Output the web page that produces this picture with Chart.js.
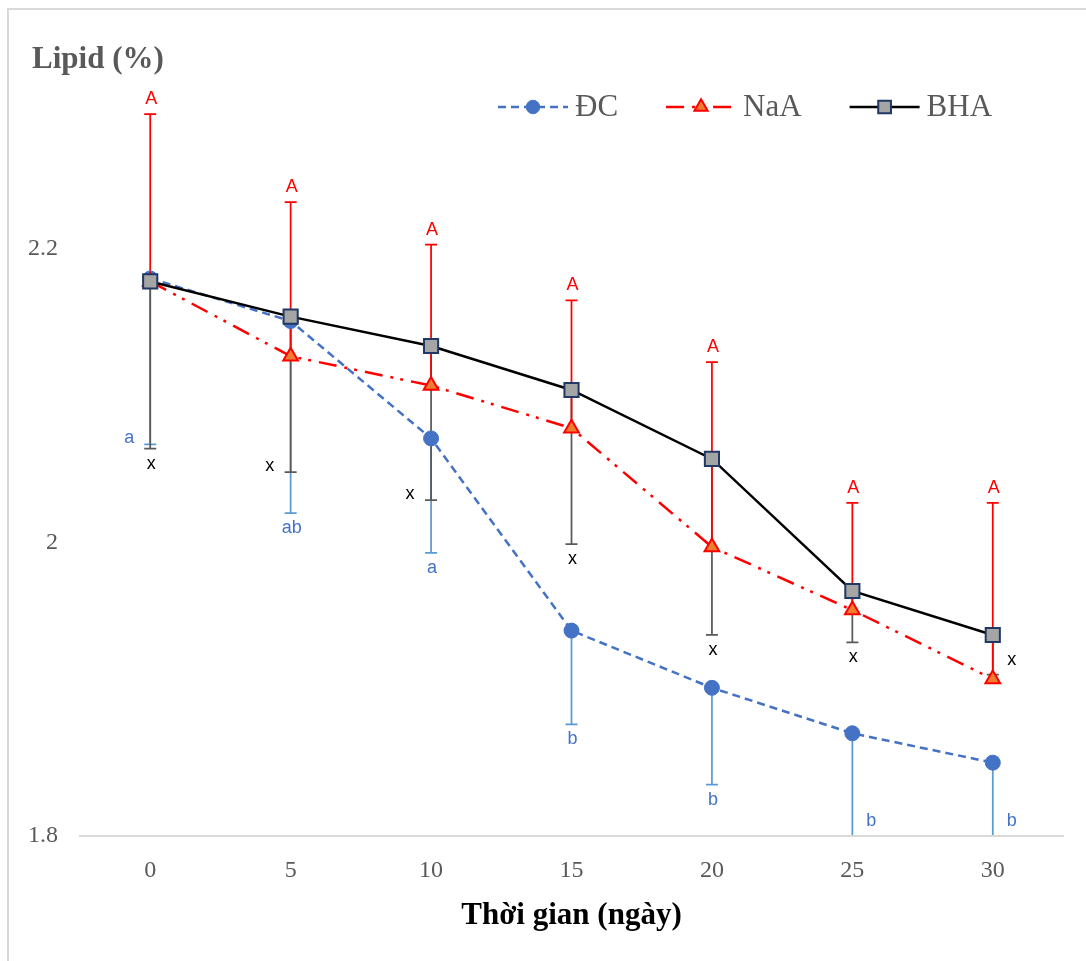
<!DOCTYPE html>
<html>
<head>
<meta charset="utf-8">
<script src="https://cdn.jsdelivr.net/npm/chart.js@4.4.1/dist/chart.umd.min.js"></script>
<style>
html, body { margin: 0; padding: 0; background: #fff; }
#wrap { position: relative; width: 1086px; height: 961px; overflow: hidden; }
#frame { position: absolute; left: 7px; top: 8px; width: 1100px; height: 1000px;
         border-left: 2px solid #d9d9d9; border-top: 2px solid #d9d9d9; }
canvas { position: absolute; left: 0; top: 0; }
</style>
</head>
<body>
<div id="wrap">
  <div id="frame"></div>
  <canvas id="myChart" width="1086" height="961"></canvas>
</div>
<script>
// ngày bảo quản
const days = ['0', '5', '10', '15', '20', '25', '30'];

// giá trị trung bình lipid (%)
const dcValues  = [2.180, 2.151, 2.071, 1.940, 1.901, 1.870, 1.850];
const naaValues = [2.178, 2.127, 2.107, 2.078, 1.997, 1.954, 1.907];
const bhaValues = [2.178, 2.154, 2.134, 2.104, 2.057, 1.967, 1.937];

// đầu mút thanh sai số
const dcLow   = [2.067, 2.020, 1.993, 1.876, 1.835, 1.780, 1.760];
const naaHigh = [2.292, 2.232, 2.203, 2.165, 2.123, 2.027, 2.027];
const bhaLow  = [2.064, 2.048, 2.029, 1.999, 1.937, 1.932, 1.910];

// chữ cái thống kê
const dcLetters  = ['a', 'ab', 'a', 'b', 'b', 'b', 'b'];
const naaLetters = ['A', 'A', 'A', 'A', 'A', 'A', 'A'];
const bhaLetters = ['x', 'x', 'x', 'x', 'x', 'x', 'x'];

const yTicks = [1.8, 2, 2.2];

// where each letter sits next to its bar end
const dcLetterSide  = ['left', 'below', 'below', 'below', 'below', 'right', 'right'];
const naaLetterSide = ['above', 'above', 'above', 'above', 'above', 'above', 'above'];
const bhaLetterSide = ['below', 'left', 'left', 'below', 'below', 'below', 'right'];

const errSets = [
  { values: dcValues,  ends: dcLow,   color: '#5b9bd5', letters: dcLetters,  side: dcLetterSide,  textColor: '#4472c4' },
  { values: bhaValues, ends: bhaLow,  color: '#595959', letters: bhaLetters, side: bhaLetterSide, textColor: '#000000' },
  { values: naaValues, ends: naaHigh, color: '#ff0000', letters: naaLetters, side: naaLetterSide, textColor: '#ff0000' }
];

const errorBars = {
  id: 'errorBars',
  beforeDatasetsDraw(chart) {
    const { ctx, chartArea, scales: { x, y } } = chart;
    ctx.save();
    ctx.beginPath();
    ctx.rect(chartArea.left, chartArea.top - 2, chartArea.right - chartArea.left, chartArea.bottom - chartArea.top + 1);
    ctx.clip();
    errSets.forEach(s => {
      ctx.strokeStyle = s.color;
      ctx.lineWidth = 1.75;
      s.values.forEach((v, i) => {
        const px = x.getPixelForValue(i);
        const y0 = y.getPixelForValue(v);
        const y1 = y.getPixelForValue(s.ends[i]);
        ctx.beginPath();
        ctx.moveTo(px, y0);
        ctx.lineTo(px, y1);
        ctx.moveTo(px - 6, y1);
        ctx.lineTo(px + 6, y1);
        ctx.stroke();
      });
    });
    ctx.restore();
  },
  afterDatasetsDraw(chart) {
    const { ctx, chartArea, scales: { x, y } } = chart;
    ctx.save();
    ctx.font = '18px "Liberation Sans", Arial, sans-serif';
    ctx.textAlign = 'center';
    ctx.textBaseline = 'middle';
    errSets.forEach(s => {
      ctx.fillStyle = s.textColor;
      s.letters.forEach((t, i) => {
        const px = x.getPixelForValue(i);
        const yEnd = Math.min(y.getPixelForValue(s.ends[i]), chartArea.bottom);
        let lx = px + 1, ly = yEnd;
        const side = s.side[i];
        if (side === 'above') ly = yEnd - 15;
        else if (side === 'below') ly = yEnd + 15;
        else if (side === 'left') { lx = px - 21; ly = yEnd - 6; }
        else if (side === 'right') { lx = px + 19; ly = yEnd - 15; }
        ctx.fillText(t, lx, ly);
      });
    });
    ctx.restore();
  }
};

const titleLegend = {
  id: 'titleLegend',
  afterDraw(chart) {
    const ctx = chart.ctx;
    ctx.save();
    ctx.fillStyle = '#595959';
    ctx.font = 'bold 31px "Liberation Serif", "Times New Roman", serif';
    ctx.textAlign = 'left';
    ctx.textBaseline = 'alphabetic';
    ctx.fillText('Lipid (%)', 32, 68);

    // legend
    let lx = 498;
    const ly = 107;
    ctx.font = '31px "Liberation Serif", "Times New Roman", serif';
    chart.data.datasets.forEach(ds => {
      ctx.save();
      ctx.strokeStyle = ds.borderColor;
      ctx.lineWidth = ds.borderWidth;
      ctx.setLineDash(ds.borderDash || []);
      ctx.beginPath();
      ctx.moveTo(lx, ly);
      ctx.lineTo(lx + 70, ly);
      ctx.stroke();
      ctx.restore();
      ctx.save();
      ctx.fillStyle = ds.pointBackgroundColor;
      ctx.strokeStyle = ds.pointBorderColor;
      ctx.lineWidth = ds.pointBorderWidth;
      Chart.helpers.drawPoint(ctx, { pointStyle: ds.pointStyle, radius: ds.pointRadius * 0.9, borderWidth: ds.pointBorderWidth, rotation: 0 }, lx + 35, ly);
      ctx.restore();
      ctx.fillStyle = '#595959';
      ctx.textBaseline = 'middle';
      ctx.fillText(ds.label, lx + 77, ly + 1);
      lx += 77 + ctx.measureText(ds.label).width + 48;
    });
    ctx.restore();
  }
};

const ctx = document.getElementById('myChart').getContext('2d');
const chart = new Chart(ctx, {
  type: 'line',
  data: {
    labels: days,
    datasets: [
      {
        label: 'ĐC',
        data: dcValues,
        borderColor: '#4472c4',
        backgroundColor: '#4472c4',
        borderWidth: 2.5,
        borderDash: [8, 5],
        pointStyle: 'circle',
        pointRadius: 7.5,
        pointBackgroundColor: '#4472c4',
        pointBorderColor: '#4472c4',
        pointBorderWidth: 1,
        order: 2
      },
      {
        label: 'NaA',
        data: naaValues,
        borderColor: '#ff0000',
        backgroundColor: '#ed7d31',
        borderWidth: 2.5,
        borderDash: [18, 8, 3, 7, 3, 8],
        pointStyle: 'triangle',
        pointRadius: 8.5,
        pointBackgroundColor: '#ed7d31',
        pointBorderColor: '#ff0000',
        pointBorderWidth: 2,
        order: 1
      },
      {
        label: 'BHA',
        data: bhaValues,
        borderColor: '#000000',
        backgroundColor: '#a5a5a5',
        borderWidth: 2.5,
        pointStyle: 'rect',
        pointRadius: 10,
        pointBackgroundColor: '#a5a5a5',
        pointBorderColor: '#1f3864',
        pointBorderWidth: 2,
        order: 0
      }
    ]
  },
  options: {
    responsive: false,
    animation: false,
    layout: { padding: { top: 17.5, right: 23, bottom: 26, left: 0 } },
    plugins: {
      legend: { display: false },
      tooltip: { enabled: false }
    },
    scales: {
      x: {
        offset: true,
        grid: { display: true, drawOnChartArea: false, drawTicks: false },
        border: { display: true, color: '#d9d9d9', width: 2 },
        ticks: {
          color: '#595959',
          padding: 20,
          font: { family: '"Liberation Serif", "Times New Roman", serif', size: 24 }
        },
        title: {
          display: true,
          text: 'Thời gian (ngày)',
          color: '#000000',
          padding: 0,
          font: { family: '"Liberation Serif", "Times New Roman", serif', size: 31, weight: 'bold' }
        },
        afterFit(scale) { scale.height = 99; }
      },
      y: {
        min: 1.8,
        max: 2.345,
        grid: { display: false, drawTicks: false },
        border: { display: false },
        ticks: {
          color: '#595959',
          padding: 22,
          font: { family: '"Liberation Serif", "Times New Roman", serif', size: 24 },
          callback: v => String(v)
        },
        afterBuildTicks(scale) { scale.ticks = yTicks.map(v => ({ value: v })); },
        afterFit(scale) { scale.width = 80; }
      }
    }
  },
  plugins: [errorBars, titleLegend]
});
</script>
</body>
</html>
